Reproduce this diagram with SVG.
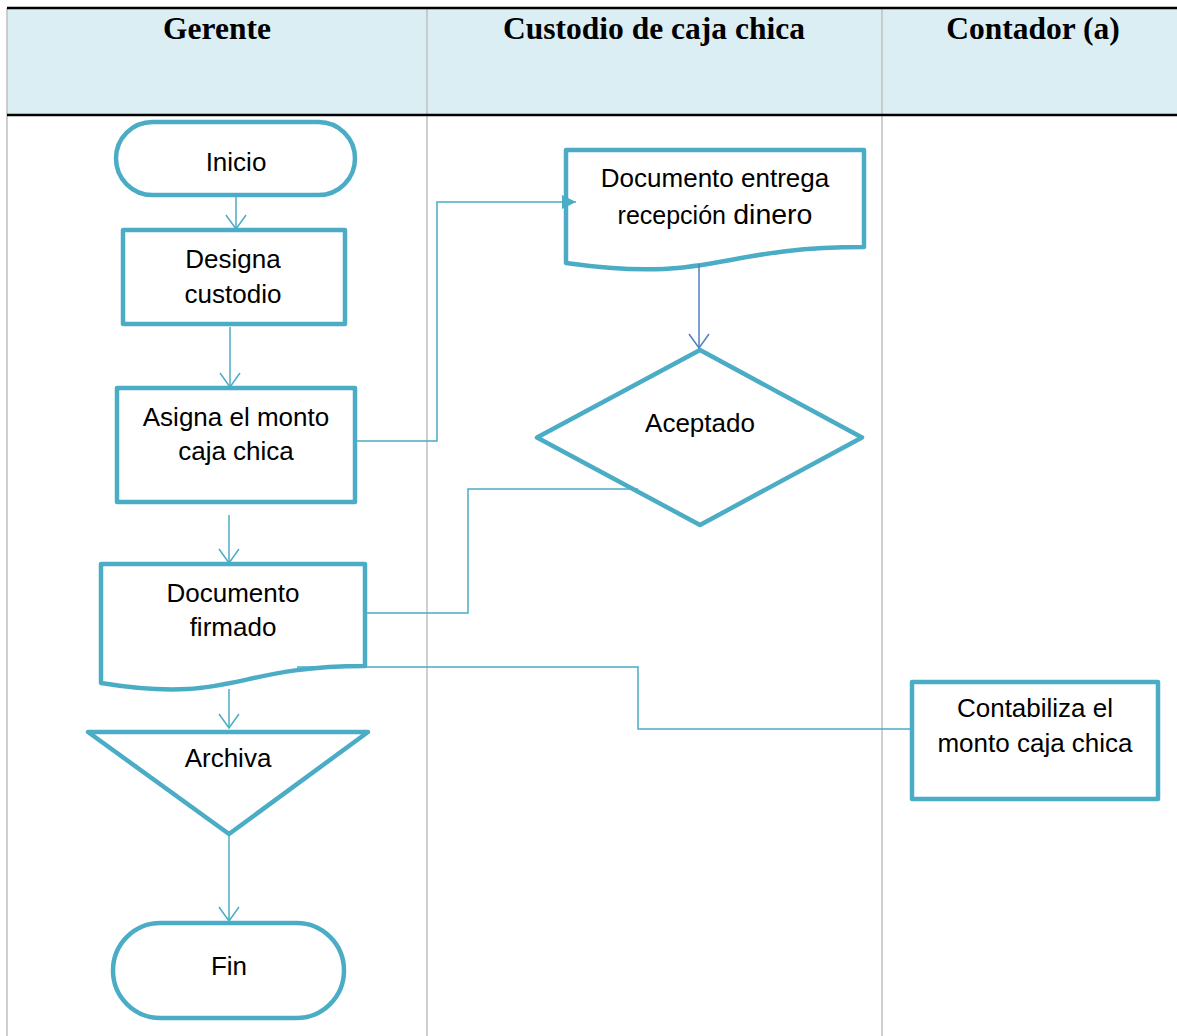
<svg xmlns="http://www.w3.org/2000/svg" width="1177" height="1036" viewBox="0 0 1177 1036">
  <style>
    .lane { stroke: #BFBFBF; stroke-width: 1.5; fill: none; }
    .rule { stroke: #000000; stroke-width: 2.5; fill: none; }
    .title { font-family: "Liberation Serif", "Times New Roman", serif; font-weight: bold; font-size: 31.5px; fill: #000; text-anchor: middle; }
    .shape { fill: #FFFFFF; stroke: #4BACC6; stroke-width: 4.5; stroke-linejoin: round; }
    .label { font-family: "Liberation Sans", Arial, sans-serif; font-size: 26px; fill: #000; text-anchor: middle; }
    .conn { fill: none; stroke: #4BACC6; stroke-width: 1.5; }
    .conn-blue { fill: none; stroke: #4F81BD; stroke-width: 1.5; }
  </style>
  <defs>
    <marker id="open-arrow" viewBox="0 0 16 22" refX="15" refY="11" markerWidth="16" markerHeight="22" markerUnits="userSpaceOnUse" orient="auto">
      <path d="M1,1 L15,11 L1,21" fill="none" stroke="#4BACC6" stroke-width="1.5"/>
    </marker>
    <marker id="open-arrow-blue" viewBox="0 0 16 22" refX="15" refY="11" markerWidth="16" markerHeight="22" markerUnits="userSpaceOnUse" orient="auto">
      <path d="M1,1 L15,11 L1,21" fill="none" stroke="#4F81BD" stroke-width="1.5"/>
    </marker>
    <marker id="solid-arrow" viewBox="0 0 14 14" refX="14" refY="7" markerWidth="14" markerHeight="14" markerUnits="userSpaceOnUse" orient="auto">
      <path d="M0,0 L14,7 L0,14 Z" fill="#4BACC6"/>
    </marker>
  </defs>

  <!-- Swimlane table -->
  <g id="lanes">
    <rect x="7" y="8" width="1170" height="107" fill="#DBEEF4"/>
    <line class="lane" x1="7" y1="8" x2="7" y2="1036"/>
    <line class="lane" x1="427" y1="8" x2="427" y2="1036"/>
    <line class="lane" x1="882" y1="8" x2="882" y2="1036"/>
    <line class="rule" x1="7" y1="8" x2="1177" y2="8"/>
    <line class="rule" x1="7" y1="115" x2="1177" y2="115"/>
    <text class="title" x="217" y="39">Gerente</text>
    <text class="title" x="654" y="39">Custodio de caja chica</text>
    <text class="title" x="1033" y="39">Contador (a)</text>
  </g>

  <!-- Gerente lane -->
  <g id="inicio">
    <rect class="shape" x="116" y="122" width="239" height="73" rx="36.5"/>
    <text class="label" x="236" y="171">Inicio</text>
  </g>
  <g id="designa-custodio">
    <rect class="shape" x="123" y="230" width="222" height="94"/>
    <text class="label" x="233" y="268">Designa</text>
    <text class="label" x="233" y="303">custodio</text>
  </g>
  <g id="asigna-monto">
    <rect class="shape" x="117" y="388" width="238" height="114"/>
    <text class="label" x="236" y="426">Asigna el monto</text>
    <text class="label" x="236" y="460">caja chica</text>
  </g>
  <g id="documento-firmado">
    <path class="shape" d="M101,564 H365 V666 C233,666 233,704.5 101,683 Z"/>
    <text class="label" x="233" y="602">Documento</text>
    <text class="label" x="233" y="636">firmado</text>
  </g>
  <g id="archiva">
    <path class="shape" d="M88,732 H368 L229,834 Z"/>
    <text class="label" x="228" y="767">Archiva</text>
  </g>
  <g id="fin">
    <rect class="shape" x="113" y="923" width="231" height="95" rx="47.5"/>
    <text class="label" x="229" y="975">Fin</text>
  </g>

  <!-- Custodio lane -->
  <g id="documento-entrega">
    <path class="shape" d="M566,150 H864 V247 C715,247 715,283.8 566,263 Z"/>
    <text class="label" x="715" y="187">Documento entrega</text>
    <text class="label" x="715" y="224"><tspan font-size="25">recepción</tspan> <tspan font-size="28.5">dinero</tspan></text>
  </g>
  <g id="aceptado">
    <path class="shape" d="M700,350 L862,437.5 L700,525 L537,437.5 Z"/>
    <text class="label" x="700" y="432">Aceptado</text>
  </g>

  <!-- Contador lane -->
  <g id="contabiliza">
    <rect class="shape" x="912" y="682" width="246" height="117"/>
    <text class="label" x="1035" y="717">Contabiliza el</text>
    <text class="label" x="1035" y="752">monto caja chica</text>
  </g>

  <!-- Connectors, drawn over the shapes -->
  <g id="connectors">
    <line class="conn" x1="236" y1="197" x2="236" y2="229" marker-end="url(#open-arrow)"/>
    <line class="conn" x1="230" y1="327" x2="230" y2="387" marker-end="url(#open-arrow)"/>
    <line class="conn" x1="229" y1="515" x2="229" y2="563" marker-end="url(#open-arrow)"/>
    <line class="conn" x1="229" y1="689" x2="229" y2="728" marker-end="url(#open-arrow)"/>
    <line class="conn" x1="229" y1="836" x2="229" y2="921" marker-end="url(#open-arrow)"/>
    <line class="conn-blue" x1="699" y1="264" x2="699" y2="348" marker-end="url(#open-arrow-blue)"/>
    <path class="conn" d="M357,441 H437 V202 H576" marker-end="url(#solid-arrow)"/>
    <path class="conn" d="M638,489 H468 V613 H367"/>
    <path class="conn" d="M297,667 H638 V729 H910"/>
  </g>
</svg>
